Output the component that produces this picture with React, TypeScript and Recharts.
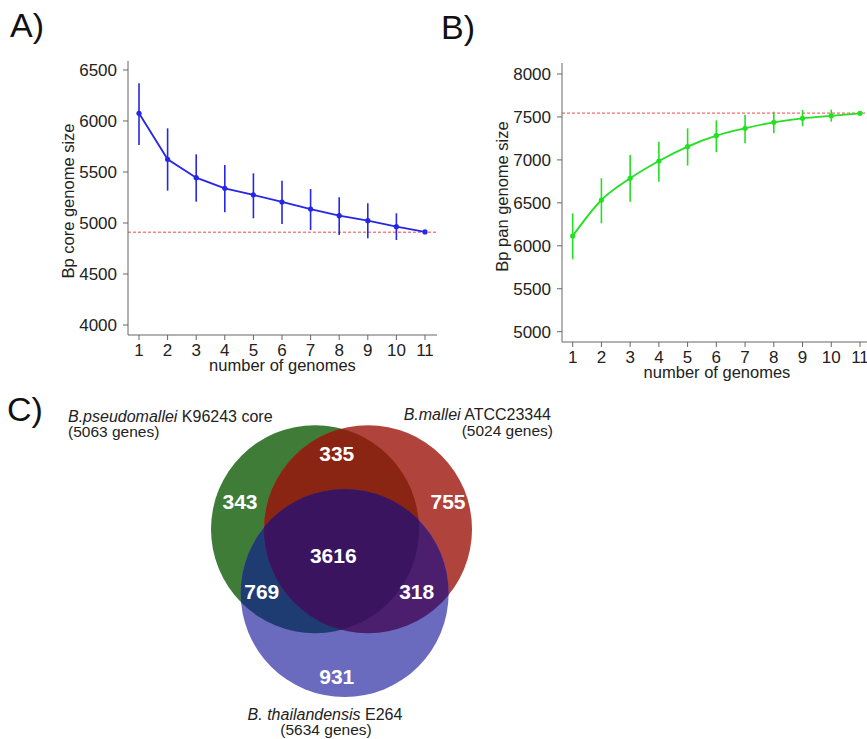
import React from "react";
import {
  ErrorBar,
  Line,
  LineChart,
  ReferenceLine,
  Scatter,
  ScatterChart,
  XAxis,
  YAxis,
} from "recharts";

const FONT = '"Liberation Sans", Arial, Helvetica, sans-serif';
const AXIS_GREY = "#666";
const INK = "#222";

// number of genomes sampled
const GENOMES = [1, 2, 3, 4, 5, 6, 7, 8, 9, 10, 11];

// A) core genome size, mean with spread
const CORE_MEAN = [6075, 5625, 5444, 5340, 5275, 5206, 5137, 5072, 5023, 4964, 4912];
const CORE_HIGH = [6370, 5928, 5673, 5569, 5487, 5415, 5333, 5252, 5193, 5095, 4912];
const CORE_LOW = [5765, 5317, 5209, 5105, 5046, 4990, 4931, 4882, 4850, 4833, 4912];
const CORE_ASYMPTOTE = 4910;
const CORE_TICKS = [4000, 4500, 5000, 5500, 6000, 6500];

// B) pan genome size, mean with spread
const PAN_MEAN = [6114, 6533, 6786, 6987, 7154, 7282, 7368, 7438, 7484, 7513, 7542];
const PAN_HIGH = [6378, 6786, 7057, 7212, 7368, 7460, 7527, 7561, 7581, 7585, 7542];
const PAN_LOW = [5843, 6262, 6513, 6746, 6933, 7090, 7193, 7310, 7392, 7445, 7542];
const PAN_ASYMPTOTE = 7545;
const PAN_TICKS = [5000, 5500, 6000, 6500, 7000, 7500, 8000];

// C) Venn: circle centres in units of one circle radius
const VENN_SETS = [
  { id: "bp", x: -0.255, y: 0.2, r: 1, fill: "#3f7c38" },
  { id: "bm", x: 0.255, y: 0.2, r: 1, fill: "#b1433d" },
  { id: "bt", x: 0.03, y: -0.415, r: 1, fill: "#6a6abf" },
];
const VENN_OVERLAPS = [
  { base: "bp", clips: ["bm"], fill: "#8a2413" },
  { base: "bp", clips: ["bt"], fill: "#1f3c72" },
  { base: "bm", clips: ["bt"], fill: "#4b1f6e" },
  { base: "bp", clips: ["bm", "bt"], fill: "#3b1460" },
];
const VENN_COUNTS = [335, 343, 755, 3616, 769, 318, 931];
const VENN_COUNT_X = [-0.046, -0.976, 1.024, -0.079, -0.767, 0.723, -0.046];
const VENN_COUNT_Y = [0.93, 0.464, 0.464, -0.048, -0.4, -0.4, -1.218];

const VENN_W = 310;
const VENN_H = 320;
const VENN_X_DOMAIN: [number, number] = [-1.457, 1.524];
const VENN_Y_DOMAIN: [number, number] = [-1.635, 1.442];
const VENN_PX = VENN_W / (VENN_X_DOMAIN[1] - VENN_X_DOMAIN[0]);

const rowsOf = (mean: number[], low: number[], high: number[]) =>
  GENOMES.map((n, i) => ({
    n,
    mean: mean[i],
    err: [mean[i] - low[i], high[i] - mean[i]],
  }));

const tickStyle = { fill: INK, fontSize: 17, fontFamily: FONT };

function CurvePanel({
  rows,
  color,
  asymptote,
  yDomain,
  yTicks,
  xDomain,
  yLabel,
  margin,
  curve,
  yLabelDy,
  xLabelOffset,
}: {
  rows: { n: number; mean: number; err: number[] }[];
  color: string;
  asymptote: number;
  yDomain: [number, number];
  yTicks: number[];
  xDomain: [number, number];
  yLabel: string;
  margin: { top: number; right: number; bottom: number; left: number };
  curve: "linear" | "monotone";
  yLabelDy: number;
  xLabelOffset: number;
}) {
  return (
    <LineChart width={450} height={390} data={rows} margin={margin}>
      <XAxis
        dataKey="n"
        type="number"
        domain={xDomain}
        ticks={GENOMES}
        allowDataOverflow
        interval={0}
        height={40}
        tick={tickStyle}
        tickSize={5}
        tickMargin={4}
        stroke={AXIS_GREY}
        label={{
          value: "number of genomes",
          position: "insideBottom",
          offset: xLabelOffset,
          style: { fill: INK, fontSize: 16.5, fontFamily: FONT },
        }}
      />
      <YAxis
        type="number"
        domain={yDomain}
        ticks={yTicks}
        allowDataOverflow
        interval={0}
        width={60}
        tick={tickStyle}
        tickSize={5}
        tickMargin={6}
        stroke={AXIS_GREY}
        label={{
          value: yLabel,
          angle: -90,
          position: "insideLeft",
          offset: 0,
          dy: yLabelDy,
          style: { textAnchor: "middle", fill: INK, fontSize: 16.5, fontFamily: FONT },
        }}
      />
      <ReferenceLine y={asymptote} stroke="#ee4848" strokeWidth={1} strokeDasharray="3 2" />
      <Line
        type={curve}
        dataKey="mean"
        stroke={color}
        strokeWidth={1.8}
        dot={{ r: 2.6, fill: color, stroke: color, strokeWidth: 0 }}
        isAnimationActive={false}
      >
        <ErrorBar dataKey="err" width={0} stroke={color} strokeWidth={1.6} direction="y" isAnimationActive={false} />
      </Line>
    </LineChart>
  );
}

const vennCircles = VENN_SETS.map((s) => ({ ...s }));
const vennOverlapRows = VENN_OVERLAPS.map((o) => {
  const base = VENN_SETS.find((s) => s.id === o.base)!;
  return { x: base.x, y: base.y, r: base.r, clips: o.clips, fill: o.fill };
});
const vennCountRows = VENN_COUNTS.map((v, i) => ({ x: VENN_COUNT_X[i], y: VENN_COUNT_Y[i], v }));

function CircleShape(props: any) {
  const { cx, cy, payload } = props;
  const r = payload.r * VENN_PX;
  return (
    <g>
      <defs>
        <clipPath id={`venn-clip-${payload.id}`}>
          <circle cx={cx} cy={cy} r={r} />
        </clipPath>
      </defs>
      <circle cx={cx} cy={cy} r={r} fill={payload.fill} />
    </g>
  );
}

function OverlapShape(props: any) {
  const { cx, cy, payload } = props;
  let node = <circle cx={cx} cy={cy} r={payload.r * VENN_PX} fill={payload.fill} />;
  for (const c of payload.clips) {
    node = <g clipPath={`url(#venn-clip-${c})`}>{node}</g>;
  }
  return node;
}

function CountShape(props: any) {
  const { cx, cy, payload } = props;
  return (
    <text
      x={cx}
      y={cy}
      dy="0.36em"
      textAnchor="middle"
      fill="#fff"
      fontSize={21}
      fontWeight="bold"
      fontFamily={FONT}
    >
      {payload.v}
    </text>
  );
}

function Venn() {
  return (
    <ScatterChart width={VENN_W} height={VENN_H} margin={{ top: 0, right: 0, bottom: 0, left: 0 }}>
      <XAxis type="number" dataKey="x" domain={VENN_X_DOMAIN} allowDataOverflow hide />
      <YAxis type="number" dataKey="y" domain={VENN_Y_DOMAIN} allowDataOverflow hide />
      <Scatter data={vennCircles} shape={CircleShape} isAnimationActive={false} />
      <Scatter data={vennOverlapRows} shape={OverlapShape} isAnimationActive={false} />
      <Scatter data={vennCountRows} shape={CountShape} isAnimationActive={false} />
    </ScatterChart>
  );
}

export default function App() {
  const coreRows = rowsOf(CORE_MEAN, CORE_LOW, CORE_HIGH);
  const panRows = rowsOf(PAN_MEAN, PAN_LOW, PAN_HIGH);
  const head = { fill: INK, fontFamily: FONT, fontSize: 16 };
  const txt = { fill: INK, fontFamily: FONT, fontSize: 15.5 };
  return (
    <div
      style={{
        position: "absolute",
        left: 0,
        top: 0,
        width: 867,
        height: 739,
        overflow: "hidden",
        background: "#fff",
        fontFamily: FONT,
      }}
    >
      <div style={{ position: "absolute", left: 0, top: 0 }}>
        <CurvePanel
          rows={coreRows}
          color="#2626e6"
          asymptote={CORE_ASYMPTOTE}
          yDomain={[3902, 6588]}
          yTicks={CORE_TICKS}
          xDomain={[0.615, 11.42]}
          yLabel="Bp core genome size"
          margin={{ top: 61, right: 13, bottom: 15, left: 68 }}
          curve="linear"
          yLabelDy={3}
          xLabelOffset={4}
        />
      </div>
      <div style={{ position: "absolute", left: 430, top: 0 }}>
        <CurvePanel
          rows={panRows}
          color="#22e022"
          asymptote={PAN_ASYMPTOTE}
          yDomain={[4880, 8128]}
          yTicks={PAN_TICKS}
          xDomain={[0.628, 11.418]}
          yLabel="Bp pan genome size"
          margin={{ top: 63, right: 8, bottom: 8, left: 72 }}
          curve="monotone"
          yLabelDy={-6}
          xLabelOffset={4}
        />
      </div>
      <div style={{ position: "absolute", left: 190, top: 400 }}>
        <Venn />
      </div>
      <svg
        width={867}
        height={739}
        style={{ position: "absolute", left: 0, top: 0, pointerEvents: "none" }}
      >
        <text x={10} y={37} fontSize={34} fill="#111" fontFamily={FONT}>A)</text>
        <text x={441} y={39} fontSize={34} fill="#111" fontFamily={FONT}>B)</text>
        <text x={7} y={421} fontSize={34} fill="#111" fontFamily={FONT}>C)</text>

        <text x={68} y={422} {...head}>
          <tspan fontStyle="italic">B.pseudomallei</tspan> K96243 core
        </text>
        <text x={68} y={437} {...txt}>(5063 genes)</text>

        <text x={551} y={420} textAnchor="end" {...head}>
          <tspan fontStyle="italic">B.mallei</tspan> ATCC23344
        </text>
        <text x={553} y={436} textAnchor="end" {...txt}>(5024 genes)</text>

        <text x={325} y={720} textAnchor="middle" {...head}>
          <tspan fontStyle="italic">B. thailandensis</tspan> E264
        </text>
        <text x={326} y={735} textAnchor="middle" {...txt}>(5634 genes)</text>
      </svg>
    </div>
  );
}
